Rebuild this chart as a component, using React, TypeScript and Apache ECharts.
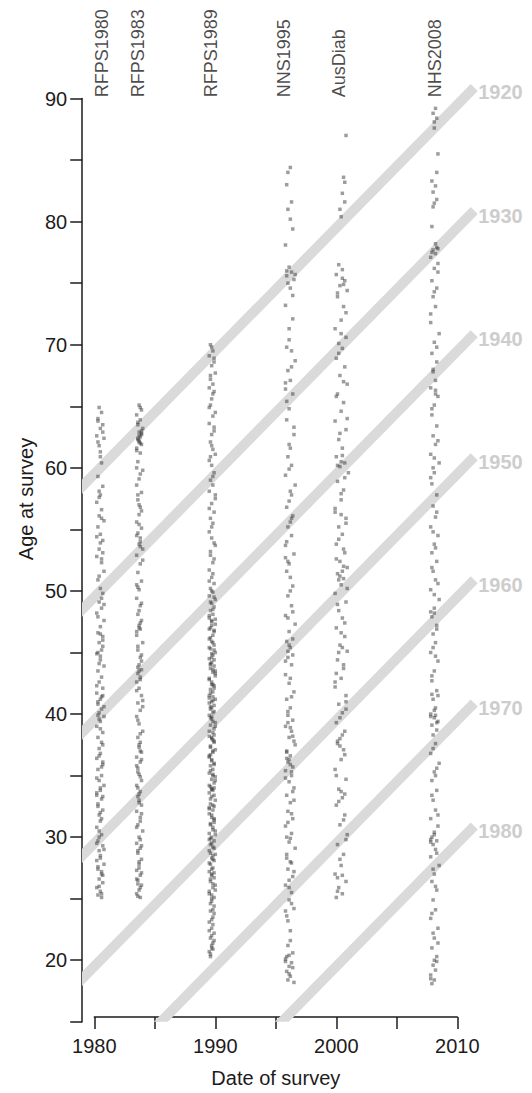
import React, { useEffect, useRef } from "react";
import * as echarts from "echarts";

// ---------- DATA ----------
const SURVEY_NAMES = ["RFPS1980", "RFPS1983", "RFPS1989", "NNS1995", "AusDiab", "NHS2008"];
// start of each survey's fieldwork period (years); point offsets below are tenths of a year
const SURVEY_START = [1980.1, 1983.3, 1989.3, 1995.4, 1999.6, 2007.4];
// year at which each survey's name is written
const SURVEY_LABEL_YEAR = [1980.6, 1983.65, 1989.65, 1995.64, 2000.2, 2008.16];
const SURVEY_LABEL_AGE = 90.1;

const COHORTS = [1920, 1930, 1940, 1950, 1960, 1970, 1980];
const COHORT_AGE_SHIFT = 0.5;
const COHORT_LINE_FROM = 1978;
const COHORT_LINE_TO = 2011.4;

const X_TICKS = [1980, 1990, 2000, 2010];
const Y_TICKS = [20, 30, 40, 50, 60, 70, 80, 90];

// [offset in tenths of a year, age]
const RFPS1980 = [
  [3,64.9],[5,64.5],[2,63.8],[6,63.5],[4,63.2],[1,62.6],[7,62.4],[3,61.8],[5,60.4],[2,59.3],[6,58.5],[4,57.8],[1,57.2],[5,56.6],[3,56.1],[7,55.7],[2,55.2],[4,54.6],[6,54.1],[3,53.4],[1,52.8],[5,52.3],[7,51.6],[2,50.9],[4,50.2],[6,49.8],[3,49.1],[5,48.6],[1,48.2],[7,47.6],[4,47.1],[2,46.6],[6,46.3],[3,45.8],[5,45.2],[1,44.9],[4,44.4],[7,43.9],[2,43.5],[5,43.0],[3,42.6],[6,42.1],[1,41.7],[4,41.2],[2,40.8],[5,40.4],[3,40.1],[7,39.8],[4,39.4],[1,39.0],[6,38.5],[2,38.1],[5,37.7],[3,37.2],[4,36.8],[1,36.4],[6,35.9],[2,35.5],[5,35.0],[3,34.6],[7,34.2],[4,33.8],[1,33.4],[5,33.1],[2,32.7],[6,32.2],[3,31.8],[4,31.3],[1,30.8],[5,30.2],[2,29.7],[6,29.3],[3,28.9],[4,28.5],[1,28.1],[7,27.8],[2,27.4],[5,27.0],[3,26.6],[6,26.3],[1,25.9],[4,25.6],[2,25.3],[5,25.1],[4,44.7],[2,41.0],[6,36.1],[3,30.5],[5,27.2],[1,33.6],[7,48.9],[4,53.9],[2,62.1],[6,46.0],[3,39.6],
  [2,64.0],[6,62.9],[4,60.9],[3,58.1],[5,55.9],[1,54.4],[6,53.1],[3,51.2],[5,49.4],[2,47.9],[4,46.5],[6,45.5],[3,44.1],[1,42.3],[5,41.4],[7,40.6],[2,39.9],[4,38.8],[6,37.5],[3,36.6],[5,35.7],[1,34.8],[4,34.0],[6,33.3],[2,32.5],[5,31.5],[3,30.0],[7,29.0],[4,28.3],[2,27.6],[6,26.9],[3,26.0],[5,25.4],[1,29.5],[4,32.0],[6,41.5],[2,45.0],[5,52.6],[3,57.6],[4,61.3]
];
const RFPS1983 = [
  [4,65.1],[6,64.7],[2,64.3],[5,63.9],[3,63.5],[7,63.2],[4,62.9],[6,62.7],[5,62.5],[3,62.3],[4,62.1],[6,61.9],[2,61.6],[5,61.2],[3,60.5],[7,59.8],[4,59.1],[2,58.6],[6,58.0],[3,57.4],[5,56.8],[4,56.2],[2,55.6],[6,55.1],[3,54.7],[5,54.3],[4,53.8],[7,53.4],[2,52.9],[5,52.2],[3,51.5],[6,50.8],[4,50.1],[2,49.4],[5,48.8],[3,48.1],[6,47.6],[4,47.2],[5,46.9],[2,46.4],[7,45.8],[3,45.2],[5,44.6],[4,44.0],[6,43.6],[3,43.3],[5,43.0],[2,42.6],[4,42.1],[6,41.5],[3,40.9],[5,40.3],[2,39.8],[4,39.2],[7,38.6],[3,38.1],[5,37.7],[4,37.3],[6,36.9],[2,36.5],[5,36.1],[3,35.6],[4,35.1],[6,34.6],[2,34.2],[5,33.7],[3,33.3],[4,33.0],[6,32.6],[2,32.1],[5,31.6],[3,31.0],[7,30.5],[4,30.0],[2,29.5],[5,29.1],[3,28.7],[6,28.2],[4,27.8],[2,27.3],[5,26.9],[3,26.5],[6,26.1],[4,25.7],[2,25.4],[5,25.1],[4,62.6],[5,62.0],[3,62.4],[6,63.0],[4,47.0],[3,43.8],[5,37.0],[4,33.5],[6,29.3],[3,26.2],[5,54.0],[2,50.5],[4,57.0],[7,40.6],[3,35.3],[5,31.3],[4,27.5],[6,44.3],[2,60.0],
  [5,64.9],[3,63.7],[6,62.8],[4,62.2],[2,61.4],[5,59.5],[3,57.8],[6,56.5],[4,55.4],[2,54.5],[5,53.6],[7,52.5],[3,50.3],[6,49.0],[4,48.4],[5,47.4],[2,46.7],[3,45.5],[6,44.8],[4,43.5],[5,42.8],[2,41.9],[7,41.1],[3,39.5],[5,38.4],[4,37.5],[6,36.3],[2,35.8],[5,34.9],[3,34.0],[4,32.8],[6,31.9],[2,30.8],[5,29.8],[3,28.9],[4,28.0],[6,27.1],[2,26.6],[5,25.9],[3,25.2]
];
const RFPS1989 = [
  [3,70.0],[5,69.5],[2,69.1],[6,68.6],[4,68.3],[7,67.7],[3,67.2],[5,66.8],[2,66.5],[6,66.2],[4,65.6],[3,65.1],[7,64.5],[5,64.2],[2,63.6],[6,63.0],[4,62.7],[3,62.1],[5,61.5],[7,61.1],[2,60.6],[4,60.2],[6,59.6],[3,59.0],[5,58.6],[2,58.1],[7,57.5],[4,57.1],[6,56.4],[3,55.9],[5,55.5],[2,54.8],[4,54.3],[7,53.7],[3,53.2],[6,52.6],[5,52.3],[2,51.7],[4,51.1],[6,50.6],[3,50.2],
  [5,49.9],[2,49.6],[7,49.3],[4,49.0],[6,48.7],[3,48.4],[5,48.1],[2,47.8],[4,47.5],[7,47.3],[3,47.0],[6,46.7],[5,46.4],[2,46.1],[4,45.9],[6,45.6],[3,45.3],[7,45.0],[5,44.8],[2,44.5],[4,44.2],[6,43.9],[3,43.7],[5,43.4],[7,43.1],[2,42.9],[4,42.6],[6,42.3],[3,42.0],[5,41.8],[2,41.5],[7,41.2],[4,41.0],[6,40.7],[3,40.4],[5,40.1],[2,39.9],[4,39.6],[7,39.3],[3,39.1],[6,38.8],[5,38.5],[2,38.2],[4,38.0],[6,37.7],[3,37.4],[7,37.1],[5,36.9],[2,36.6],[4,36.3],[6,36.0],[3,35.8],[5,35.5],[2,35.2],[7,34.9],[4,34.7],[6,34.4],[3,34.1],[5,33.8],[2,33.6],[4,33.3],[7,33.0],[3,32.7],[6,32.5],[5,32.2],[2,31.9],[4,31.6],[6,31.4],[3,31.1],[5,30.8],[7,30.5],[2,30.3],[4,30.0],[6,29.7],[3,29.4],[5,29.2],[2,28.9],[7,28.6],[4,28.3],[6,28.1],[3,27.8],[5,27.5],[2,27.2],[4,27.0],[6,26.7],[3,26.4],[7,26.1],[5,25.9],[2,25.6],[4,25.3],[6,25.1],
  [4,47.6],[6,45.2],[3,44.0],[5,42.4],[2,41.3],[4,39.8],[6,38.3],[3,36.7],[5,35.1],[4,33.9],[6,31.2],[3,29.9],[5,28.5],[4,26.9],[2,46.9],[7,43.5],[3,40.6],[5,37.9],[6,34.0],[2,32.4],[4,44.6],[5,41.1],
  [4,24.8],[6,24.4],[3,24.0],[5,23.5],[2,23.1],[4,22.6],[6,22.2],[3,21.8],[5,21.4],[4,21.0],[2,20.7],[3,20.3],[5,20.9],[4,22.0],[6,23.8],
  [4,69.8],[6,68.9],[3,67.5],[5,66.0],[2,64.9],[6,63.3],[4,61.8],[3,60.9],[5,59.3],[7,57.8],[2,56.7],[4,55.2],[6,53.9],[3,52.9],[5,51.4],[2,50.8],[4,50.0],[6,49.5],[3,49.1],[5,48.5],[2,48.0],[7,47.7],[4,47.2],[6,46.8],[3,46.2],[5,45.8],[2,45.4],[4,44.9],[6,44.4],[3,44.1],[5,43.6],[7,43.3],[2,42.8],[4,42.4],[6,42.1],[3,41.7],[5,41.4],[2,40.9],[4,40.5],[6,40.2],[3,39.7],[5,39.4],[7,39.0],[2,38.6],[4,38.1],[6,37.8],[3,37.3],[5,37.0],[2,36.5],[4,36.2],[6,35.9],[3,35.4],[5,35.0],[7,34.6],[2,34.2],[4,33.9],[6,33.4],[3,33.1],[5,32.6],[2,32.3],[4,31.8],[6,31.5],[3,31.0],[5,30.6],[7,30.2],[2,29.8],[4,29.5],[6,29.1],[3,28.7],[5,28.2],[2,27.9],[4,27.4],[6,27.1],[3,26.6],[5,26.2],[7,25.7],[2,25.4],[4,25.0],[3,24.6],[5,24.1],[4,23.3],[2,22.4],[6,21.6],[3,20.5],[5,22.9],[4,21.2]
];
const NNS1995 = [
  [8,84.4],[5,83.0],[9,81.6],[6,81.0],[10,79.4],[4,78.1],[7,76.3],[9,75.9],[5,75.6],[11,75.3],[6,75.0],[8,74.6],[4,73.2],[10,72.1],[7,70.4],[5,69.8],[9,69.5],[12,68.7],[6,67.9],[8,67.1],[4,66.4],[10,66.0],[7,64.8],[5,63.9],[11,62.7],[8,61.6],[6,60.9],[9,60.2],[4,59.4],[12,58.6],[7,57.3],[5,56.8],[10,56.1],[8,55.6],[6,55.2],[9,54.5],[4,53.7],[11,53.0],[7,52.2],[5,51.6],[8,51.1],[10,50.4],[6,49.6],[9,48.8],[4,48.0],[12,47.3],[7,46.7],[5,45.9],[8,45.4],[6,45.1],[10,44.8],[9,44.0],[4,43.2],[7,42.5],[11,41.8],[5,41.2],[8,40.5],[6,39.9],[10,39.5],[4,39.0],[9,38.6],[7,38.1],[12,37.5],[5,37.0],[8,36.6],[6,36.1],[10,35.7],[4,35.4],[9,35.0],[7,34.5],[11,34.0],[5,33.4],[8,32.8],[6,32.1],[10,31.5],[4,30.9],[9,30.3],[7,29.6],[12,29.1],[5,28.6],[8,28.0],[6,27.4],[10,26.8],[4,26.1],[9,25.5],[7,24.9],[11,24.2],[5,23.6],[8,22.4],[6,21.2],[10,20.6],[4,20.1],[9,19.8],[7,19.5],[5,19.1],[8,18.7],[6,18.4],[11,18.2],[4,19.9],[7,20.4],[8,35.9],[5,36.4],[10,38.2],[6,44.6],[9,55.9],[4,66.9],[12,75.7],[7,26.5],[9,27.9],[5,30.0],[11,33.0],[6,40.2],[8,42.9],[10,48.3],[4,52.7],[7,61.9],
  [6,84.0],[8,80.2],[5,76.0],[10,74.0],[7,71.3],[9,68.2],[5,65.4],[11,63.3],[7,59.9],[9,57.8],[5,54.0],[8,50.0],[6,47.8],[10,46.1],[7,45.6],[4,44.3],[9,41.4],[6,39.3],[8,38.9],[11,37.8],[5,36.9],[7,36.3],[9,35.3],[4,34.8],[10,33.7],[6,31.2],[8,29.9],[5,28.3],[11,27.2],[7,25.9],[9,24.6],[6,23.2],[8,21.6],[5,20.3],[10,19.4],[7,18.9],[4,24.0],[9,31.9],[6,52.4],[8,58.1]
];
const AUSDIAB = [
  [12,87.0],[10,83.6],[9,82.3],[11,81.6],[8,80.4],[6,76.5],[9,76.1],[4,75.7],[11,75.2],[7,74.8],[13,74.4],[5,73.9],[10,73.1],[8,72.0],[3,71.3],[12,70.6],[6,70.1],[9,69.7],[4,68.9],[11,68.2],[7,67.5],[13,66.8],[5,66.0],[10,65.3],[8,64.6],[3,63.8],[12,63.1],[6,62.3],[9,61.6],[4,60.9],[11,60.4],[7,60.1],[14,59.6],[5,58.9],[10,58.2],[8,57.4],[3,56.7],[12,55.9],[6,55.2],[9,54.6],[4,53.8],[11,53.1],[7,52.4],[13,51.9],[5,51.4],[10,51.0],[8,50.5],[3,49.8],[12,49.1],[6,48.4],[9,47.8],[4,47.0],[11,46.3],[7,45.6],[13,45.1],[5,44.4],[10,43.7],[8,42.9],[3,42.2],[12,41.5],[6,40.8],[9,40.1],[4,39.3],[11,38.6],[7,38.0],[5,37.6],[10,37.1],[8,36.3],[3,35.5],[12,34.7],[6,33.9],[9,33.2],[4,32.6],[11,31.8],[7,31.0],[13,30.2],[5,29.4],[10,28.6],[8,27.7],[3,27.0],[12,26.4],[6,25.9],[9,25.4],[4,25.1],[8,60.5],[10,52.0],[6,50.9],[9,45.4],[7,37.4],[11,33.5],[5,26.7],[10,74.9],[8,56.2],[4,43.3],[12,40.4],
  [11,83.2],[7,81.0],[9,75.4],[5,74.2],[12,72.6],[8,70.9],[6,69.3],[10,67.0],[4,65.8],[13,64.0],[7,62.8],[9,61.0],[5,60.2],[11,59.2],[8,57.9],[3,56.4],[12,55.5],[6,54.2],[10,53.4],[4,52.6],[9,51.6],[7,51.2],[13,50.2],[5,48.9],[11,47.4],[8,46.6],[6,45.0],[10,44.0],[3,42.6],[12,41.0],[7,39.7],[9,38.3],[5,37.8],[11,36.7],[4,35.0],[8,33.7],[6,32.9],[10,31.4],[12,29.8],[7,28.2],[9,26.9],[5,25.6]
];
const NHS2008 = [
  [8,89.2],[6,88.8],[9,88.4],[7,87.6],[10,85.5],[5,83.3],[8,82.9],[6,82.4],[9,81.8],[7,81.5],[5,79.6],[9,77.9],[6,77.7],[8,77.4],[4,77.1],[10,76.6],[7,76.2],[5,75.2],[9,74.6],[6,73.9],[8,73.1],[4,71.8],[11,70.9],[7,70.2],[5,69.3],[9,68.6],[6,67.8],[8,67.1],[4,66.5],[10,65.8],[7,65.1],[5,64.3],[9,63.4],[6,62.6],[8,61.9],[4,61.1],[11,60.4],[7,59.6],[5,58.7],[9,57.8],[6,56.9],[8,56.0],[4,55.2],[10,54.5],[7,53.8],[5,53.1],[9,52.4],[6,51.6],[8,50.9],[4,50.1],[11,49.3],[7,48.6],[5,47.9],[9,47.2],[6,46.5],[8,45.8],[4,45.0],[10,44.3],[7,43.5],[5,42.7],[9,41.9],[6,41.2],[8,40.5],[4,40.0],[7,39.7],[10,39.4],[5,39.1],[9,38.7],[6,38.3],[8,37.6],[4,36.8],[11,36.0],[7,35.3],[5,34.6],[9,33.8],[6,33.0],[8,32.2],[4,31.5],[10,30.9],[7,30.4],[5,30.0],[9,29.7],[6,29.4],[8,29.0],[4,28.4],[11,27.7],[7,27.0],[5,26.4],[9,25.7],[6,24.9],[8,24.1],[4,23.4],[10,22.6],[7,21.8],[5,21.0],[9,20.3],[6,19.6],[8,19.2],[4,18.8],[7,18.4],[5,18.1],[9,19.9],[6,22.2],[8,39.9],[4,29.6],[10,77.8],[7,48.2],[5,41.6],[9,35.6],[6,60.0],[8,66.0],
  [7,88.1],[9,84.0],[6,81.2],[8,78.2],[5,77.5],[10,75.9],[7,74.3],[4,72.5],[9,69.8],[6,68.0],[8,66.3],[5,64.8],[10,62.2],[7,60.8],[4,59.2],[9,56.4],[6,54.8],[8,53.5],[5,51.9],[10,50.6],[7,49.7],[4,48.3],[9,46.9],[6,45.4],[8,44.7],[5,43.1],[10,41.5],[7,40.3],[4,39.8],[9,39.3],[6,37.2],[8,35.0],[5,33.4],[10,31.8],[7,30.2],[4,29.8],[9,28.7],[6,27.4],[8,26.0],[5,23.8],[10,21.4],[7,20.0],[4,18.5]
];
const SURVEY_POINTS = [RFPS1980, RFPS1983, RFPS1989, NNS1995, AUSDIAB, NHS2008];

// ---------- CHART ----------
const FONT = '"Liberation Sans", Arial, Helvetica, sans-serif';
const INK = "#1e1b1c";
const BAND_WIDTH = 10;

export default function App() {
  const ref = useRef<HTMLDivElement>(null);

  useEffect(() => {
    if (!ref.current) return;
    const chart = echarts.init(ref.current, null, { renderer: "svg" });

    const series: any[] = [];

    COHORTS.forEach((c) => {
      series.push({
        type: "line",
        name: String(c),
        xAxisIndex: 0,
        yAxisIndex: 0,
        data: [
          [COHORT_LINE_FROM, COHORT_LINE_FROM - c - COHORT_AGE_SHIFT],
          [COHORT_LINE_TO, COHORT_LINE_TO - c - COHORT_AGE_SHIFT],
        ],
        symbol: "none",
        clip: true,
        silent: true,
        z: 1,
        lineStyle: { color: "#dadada", width: BAND_WIDTH, cap: "butt" },
        endLabel: {
          show: true,
          formatter: String(c),
          color: "#cdcdcd",
          fontWeight: "bold",
          fontSize: 20,
          fontFamily: FONT,
          distance: 4,
          offset: [0, 5],
        },
      });
    });

    SURVEY_POINTS.forEach((pts, i) => {
      series.push({
        type: "scatter",
        name: SURVEY_NAMES[i],
        xAxisIndex: 0,
        yAxisIndex: 0,
        symbol: "rect",
        symbolSize: 3.5,
        z: 3,
        silent: true,
        itemStyle: { color: "rgba(50,50,50,0.6)" },
        data: pts.map(([o, a]) => [SURVEY_START[i] + o / 10, a]),
      });
    });

    series.push({
      type: "scatter",
      name: "survey names",
      xAxisIndex: 0,
      yAxisIndex: 0,
      symbolSize: 0,
      silent: true,
      z: 4,
      data: SURVEY_LABEL_YEAR.map((x, i) => ({ value: [x, SURVEY_LABEL_AGE], name: SURVEY_NAMES[i] })),
      label: {
        show: true,
        formatter: "{b}",
        rotate: 90,
        position: [0, 0],
        align: "left",
        verticalAlign: "middle",
        fontSize: 18,
        fontFamily: FONT,
        color: INK,
      },
    });

    // data grid: its clip rect is widened by half the band width by ECharts,
    // so the grid is inset by that amount (scales unchanged: 12.1 px/yr, 12.31 px/yr)
    chart.setOption({
      animation: false,
      backgroundColor: "#ffffff",
      grid: [
        { left: 87.2, right: 50.5, top: 73.9, bottom: 76.2 },
        { left: 82.2, right: 50.5, top: 98.5, bottom: 71.2 },
        { left: 94.3, right: 74.7, top: 98.5, bottom: 71.2 },
      ],
      xAxis: [
        { gridIndex: 0, type: "value", min: 1979.413, max: 2012, show: false },
        { gridIndex: 1, type: "value", min: 0, max: 1, show: false },
        {
          gridIndex: 2,
          type: "value",
          min: 1980,
          max: 2010,
          interval: 5,
          axisLine: { show: true, onZero: false, lineStyle: { color: INK, width: 1.5 } },
          axisTick: { show: true, length: 12, lineStyle: { color: INK, width: 1.5 } },
          axisLabel: {
            formatter: (v: number) => (X_TICKS.includes(v) ? String(v) : ""),
            fontSize: 20,
            fontFamily: FONT,
            color: INK,
            margin: 19,
          },
          splitLine: { show: false },
          name: "Date of survey",
          nameLocation: "middle",
          nameGap: 51,
          nameTextStyle: { fontSize: 20, fontFamily: FONT, color: INK },
        },
      ],
      yAxis: [
        { gridIndex: 0, type: "value", min: 15.406, max: 92, show: false },
        {
          gridIndex: 1,
          type: "value",
          min: 15,
          max: 90,
          interval: 5,
          axisLine: { show: true, onZero: false, lineStyle: { color: INK, width: 1.5 } },
          axisTick: { show: true, length: 12, lineStyle: { color: INK, width: 1.5 } },
          axisLabel: {
            formatter: (v: number) => (Y_TICKS.includes(v) ? String(v) : ""),
            fontSize: 20,
            fontFamily: FONT,
            color: INK,
            margin: 15,
          },
          splitLine: { show: false },
        },
        { gridIndex: 2, type: "value", min: 0, max: 1, show: false },
      ],
      graphic: [
        {
          type: "text",
          x: 26,
          y: 499,
          rotation: Math.PI / 2,
          silent: true,
          style: {
            text: "Age at survey",
            fontSize: 20,
            fontFamily: FONT,
            fill: INK,
            textAlign: "center",
            textVerticalAlign: "middle",
          },
        },
      ],
      series,
    });

    return () => chart.dispose();
  }, []);

  return (
    <div
      ref={ref}
      style={{ position: "fixed", left: 0, top: 0, width: 532, height: 1093, background: "#fff" }}
    />
  );
}
